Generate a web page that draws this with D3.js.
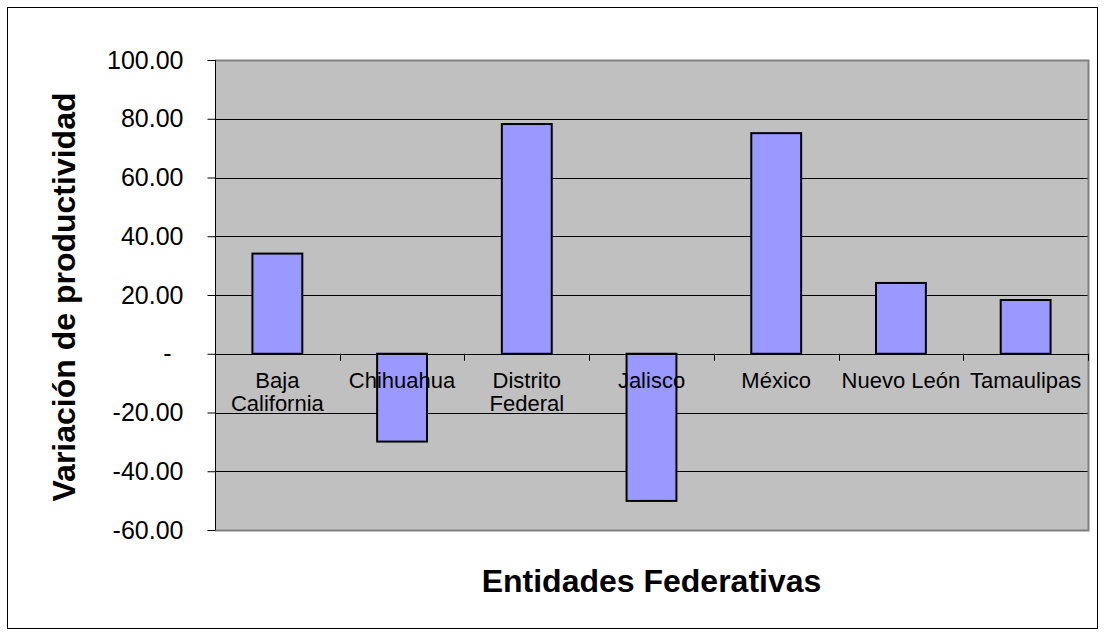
<!DOCTYPE html>
<meta charset="utf-8">
<script src="https://d3js.org/d3.v7.min.js"></script>
<style>
  body { margin: 0; background: #fff; }
  svg text { font-family: "Liberation Sans", Arial, sans-serif; }
</style>
<div id="chart"></div>
<script>
  // data
  var categories = ["Baja California", "Chihuahua", "Distrito Federal", "Jalisco", "México", "Nuevo León", "Tamaulipas"];
  var values = [34.1, -29.9, 78.2, -50.1, 75.1, 24.1, 18.3];
  var yTicks = [100, 80, 60, 40, 20, 0, -20, -40, -60];
  var yTickLabels = ["100.00", "80.00", "60.00", "40.00", "20.00", "-", "-20.00", "-40.00", "-60.00"];

  var width = 1104, height = 635;
  var plot = { left: 215, top: 60, right: 1088, bottom: 530 };

  var svg = d3.select("#chart").append("svg")
    .attr("width", width)
    .attr("height", height);

  // outer frame
  svg.append("rect")
    .attr("x", 7.5).attr("y", 7.5)
    .attr("width", 1090).attr("height", 621)
    .attr("fill", "#fff")
    .attr("stroke", "#000")
    .attr("stroke-width", 1);

  var x = d3.scaleBand()
    .domain(categories)
    .range([plot.left, plot.right])
    .paddingInner(0.6)
    .paddingOuter(0.3);

  var xOuter = d3.scaleBand()
    .domain(categories)
    .range([plot.left, plot.right]);

  var y = d3.scaleLinear()
    .domain([-60, 100])
    .range([plot.bottom, plot.top]);

  // plot background
  svg.append("rect")
    .attr("x", plot.left).attr("y", plot.top)
    .attr("width", plot.right - plot.left)
    .attr("height", plot.bottom - plot.top)
    .attr("fill", "#c0c0c0");

  // gridlines
  svg.selectAll(".grid")
    .data(yTicks.filter(function (d) { return d !== 100 && d !== -60; }))
    .enter().append("line")
    .attr("x1", plot.left).attr("x2", plot.right)
    .attr("y1", function (d) { return Math.round(y(d)) + 0.5; })
    .attr("y2", function (d) { return Math.round(y(d)) + 0.5; })
    .attr("stroke", "#000")
    .attr("stroke-width", 1);

  // plot border (top/right/bottom grey)
  svg.append("path")
    .attr("d", "M" + plot.left + "," + (plot.top + 0.5) + "H" + (plot.right + 0.5) + "V" + (plot.bottom + 0.5) + "H" + plot.left)
    .attr("fill", "none")
    .attr("stroke", "#808080")
    .attr("stroke-width", 2);

  // y axis
  var yAxis = svg.append("g")
    .attr("transform", "translate(" + (plot.left + 0.5) + ",0)")
    .call(d3.axisLeft(y)
      .tickValues(yTicks)
      .tickSize(8)
      .tickPadding(24)
      .tickFormat(function (d, i) { return yTickLabels[i]; }));
  yAxis.select(".domain").attr("stroke", "#000").attr("d", "M0," + plot.top + "V" + plot.bottom);
  yAxis.selectAll(".tick line").attr("stroke", "#000");
  yAxis.selectAll(".tick text")
    .attr("fill", "#000")
    .style("font-size", "25px")
    .attr("dx", function (d) { return d === 0 ? -12 : 0; });

  // bars
  svg.selectAll(".bar")
    .data(values)
    .enter().append("rect")
    .attr("x", function (d, i) { return x(categories[i]); })
    .attr("width", x.bandwidth())
    .attr("y", function (d) { return y(Math.max(0, d)); })
    .attr("height", function (d) { return Math.abs(y(d) - y(0)); })
    .attr("fill", "#9999ff")
    .attr("stroke", "#000")
    .attr("stroke-width", 2);

  // zero line and category ticks
  svg.append("line")
    .attr("x1", plot.left).attr("x2", plot.right)
    .attr("y1", Math.round(y(0)) + 0.5).attr("y2", Math.round(y(0)) + 0.5)
    .attr("stroke", "#000");

  svg.selectAll(".ctick")
    .data(categories.slice(1).concat(["_end"]))
    .enter().append("line")
    .attr("x1", function (d, i) { return Math.round(plot.left + (i + 1) * xOuter.bandwidth()) + 0.5; })
    .attr("x2", function (d, i) { return Math.round(plot.left + (i + 1) * xOuter.bandwidth()) + 0.5; })
    .attr("y1", y(0)).attr("y2", y(0) + 7)
    .attr("stroke", "#000");

  // category labels
  var labelLines = {
    "Baja California": ["Baja", "California"],
    "Distrito Federal": ["Distrito", "Federal"]
  };
  svg.selectAll(".clabel")
    .data(categories)
    .enter().append("text")
    .attr("x", function (d) { return xOuter(d) + xOuter.bandwidth() / 2; })
    .attr("y", y(0) + 34)
    .attr("text-anchor", "middle")
    .style("font-size", "22px")
    .attr("fill", "#000")
    .each(function (d) {
      var lines = labelLines[d] || [d];
      var t = d3.select(this);
      lines.forEach(function (l, j) {
        t.append("tspan")
          .attr("x", xOuter(d) + xOuter.bandwidth() / 2)
          .attr("dy", j === 0 ? 0 : 23)
          .text(l);
      });
    });

  // axis titles
  svg.append("text")
    .attr("x", (plot.left + plot.right) / 2)
    .attr("y", 592)
    .attr("text-anchor", "middle")
    .style("font-size", "32px")
    .style("font-weight", "bold")
    .text("Entidades Federativas");

  svg.append("text")
    .attr("transform", "translate(75," + ((plot.top + plot.bottom) / 2 + 2) + ") rotate(-90)")
    .attr("text-anchor", "middle")
    .style("font-size", "32px")
    .style("font-weight", "bold")
    .text("Variación de productividad");
</script>
